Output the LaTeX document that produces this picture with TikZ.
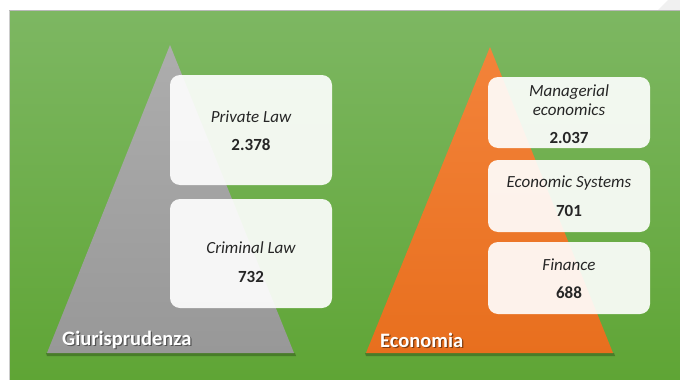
\documentclass[tikz,border=0pt]{standalone}
\usepackage{fontspec}
\setmainfont{Carlito}
\definecolor{grtop}{HTML}{7DB762}
\definecolor{grbot}{HTML}{5FA535}
\definecolor{gytop}{HTML}{ADADAD}
\definecolor{gybot}{HTML}{989898}
\definecolor{ortop}{HTML}{F3833A}
\definecolor{orbot}{HTML}{E86F1E}
\definecolor{txt}{HTML}{262626}
\tikzset{
  card/.style={rounded corners=10pt, fill=white, fill opacity=0.91, text opacity=1, minimum width=162pt, inner sep=0pt},
  itxt/.style={font=\fontsize{17}{20}\selectfont\itshape, text=txt, inner sep=0pt},
  btxt/.style={font=\fontsize{17}{20}\selectfont\bfseries, text=txt, inner sep=0pt},
  lbl/.style={font=\fontsize{20.5}{24}\selectfont\bfseries, text=white, anchor=west, inner sep=0pt},
  lblsh/.style={font=\fontsize{20.5}{24}\selectfont\bfseries, text=black, text opacity=0.45, anchor=west, inner sep=0pt}
}
\begin{document}
\begin{tikzpicture}[x=1pt,y=-1pt]
\useasboundingbox (0,0) rectangle (680,380);
\fill[white] (0,0) rectangle (680,380);
\fill[gray!12] (657,11) -- (668,0) -- (680,0) -- (680,11) -- cycle;
% background
\shade[top color=grtop, bottom color=grbot] (9,11) rectangle (680,380);
\draw[gray!55, line width=1.2pt] (9,10.6) -- (680,10.6);
\draw[gray!40, line width=0.6pt] (9.3,11) -- (9.3,380);
% triangles with base shadow
\fill[black, opacity=0.25] (46,353) -- (295,353) -- (296,356) -- (47,356) -- cycle;
\shade[top color=gytop, bottom color=gybot] (170,45) -- (294,353) -- (47,353) -- cycle;
\fill[black, opacity=0.25] (365,353) -- (614,353) -- (615,356) -- (366,356) -- cycle;
\shade[top color=ortop, bottom color=orbot] (490,47) -- (613,353) -- (366,353) -- cycle;
% cards left
\node[card, minimum height=110pt] (pl) at (251,130) {};
\node[card, minimum height=109pt] (cl) at (251,253.5) {};
\node[itxt] (plt) at (251,117) {Private Law};
\node[btxt] (pln) at (251,145) {2.378};
\node[itxt] (clt) at (251,248) {Criminal Law};
\node[btxt] (cln) at (251,277) {732};
% cards right
\node[card, minimum height=71pt] (me) at (569,112.5) {};
\node[card, minimum height=72pt] (es) at (569,196) {};
\node[card, minimum height=72pt] (fi) at (569,278) {};
\node[itxt] (met1) at (569,92) {Managerial};
\node[itxt] (met2) at (569,110) {economics};
\node[btxt] (men) at (569,138) {2.037};
\node[itxt] (est) at (569,183) {Economic Systems};
\node[btxt] (esn) at (569,211) {701};
\node[itxt] (fit) at (569,265) {Finance};
\node[btxt] (fin) at (569,293) {688};
% labels
\node[lblsh] at (63.2,341.2) {Giurisprudenza};
\node[lbl] (giu) at (62,340) {Giurisprudenza};
\node[lblsh] at (381.2,341.2) {Economia};
\node[lbl] (eco) at (380,340) {Economia};
\end{tikzpicture}
\end{document}
